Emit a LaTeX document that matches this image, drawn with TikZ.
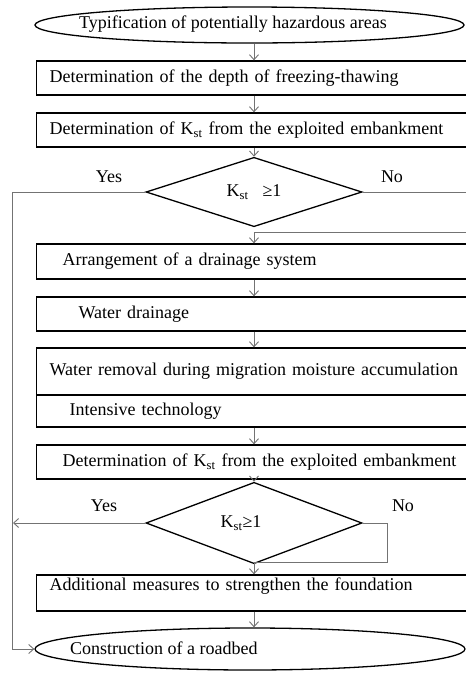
\documentclass[tikz,border=0pt]{standalone}
\usepackage{fontspec}
\setmainfont{Liberation Serif}
\usetikzlibrary{arrows.meta,shapes.geometric}
\begin{document}
\begin{tikzpicture}[x=1pt,y=-1pt,
  font=\fontsize{18}{21}\selectfont,
  box/.style={draw=black,line width=1.3pt,rectangle,minimum height=34pt,
    inner xsep=0pt,inner ysep=0pt,text width=444pt,align=left,anchor=west},
  term/.style={draw=black,line width=1.3pt,ellipse,inner sep=0pt},
  dec/.style={draw=black,line width=1.3pt,diamond,inner sep=0pt,
    minimum width=216pt,minimum height=52pt},
  conn/.style={draw=black!55,line width=0.9pt},
  arr/.style={conn,-{Straight Barb[length=5pt,width=9pt]}},
  lbl/.style={inner sep=0pt}]
\useasboundingbox (0,0) rectangle (466,673);
\fill[white] (0,0) rectangle (466,673);
\clip (0,0) rectangle (466,673);
% nodes
\node[term,minimum width=429pt,minimum height=36pt] (e1) at (249.5,25) {};
\node[lbl] (e1t) at (233,24) {Typification of potentially hazardous areas};
\node[box] (b1) at (36,78) {\hspace*{13pt}Determination of the depth of freezing-thawing};
\node[box] (b2) at (36,130) {\hspace*{13pt}Determination of K\textsubscript{st} from the exploited embankment};
\node[dec] (d1) at (254,192) {K\textsubscript{st}\hspace{14pt}≥1};
\node[box,minimum height=35pt] (b3) at (36,261.5) {\hspace*{26pt}Arrangement of a drainage system};
\node[box] (b4) at (36,314) {\hspace*{42pt}Water drainage};
\node[box,minimum height=47pt] (b5) at (36,371.5) {\hspace*{13pt}Water removal during migration moisture accumulation};
\node[box,minimum height=32pt] (b5b) at (36,411) {\hspace*{33pt}Intensive technology};
\node[box] (b6) at (36,462) {\hspace*{26pt}Determination of K\textsubscript{st} from the exploited embankment};
\node[dec] (d2) at (254,523) {K\textsubscript{st}≥1\hspace*{26pt}};
\node[box,minimum height=36pt,text height=15pt,text depth=21pt] (b7) at (36,593)
  {\hspace*{13pt}Additional measures to strengthen the foundation};
\node[term,minimum width=430pt,minimum height=42pt] (e2) at (250,649) {};
\node[lbl,anchor=west] (e2t) at (70,648) {Construction of a roadbed};
% labels
\node[lbl] (y1) at (109,177) {Yes};
\node[lbl] (n1) at (392,177) {No};
\node[lbl] (y2) at (104,506) {Yes};
\node[lbl] (n2) at (403,506) {No};
% helper coordinates
\coordinate (yl) at (12,649);
\coordinate (r1) at (472,192);
\coordinate (r2) at (472,232);
\coordinate (ya) at (13,523);
\coordinate (nb) at (387,562);
% connectors
\draw[arr] (e1.south -| d1.north) -- (b1.north -| d1.north);
\draw[arr] (b1.south -| d1.north) -- (b2.north -| d1.north);
\draw[arr] (b2.south -| d1.north) -- (d1.north);
\draw[arr] (d1.west) -| (yl) -- (e2.west);
\draw[arr] (d1.east) -- (r1) -- (r2) -| (b3.north -| d1.north);
\draw[arr] (b3.south -| d1.north) -- (b4.north -| d1.north);
\draw[arr] (b4.south -| d1.north) -- (b5.north -| d1.north);
\draw[arr] (b5b.south -| d1.north) -- (b6.north -| d1.north);
\draw[arr] (b6.south -| d2.north) -- (d2.north);
\draw[arr] (d2.west) -- (ya);
\draw[arr] (d2.east) -| (nb) -| (b7.north -| d2.north);
\draw[arr] (b7.south -| d2.north) -- (e2.north -| d2.north);
\end{tikzpicture}
\end{document}
